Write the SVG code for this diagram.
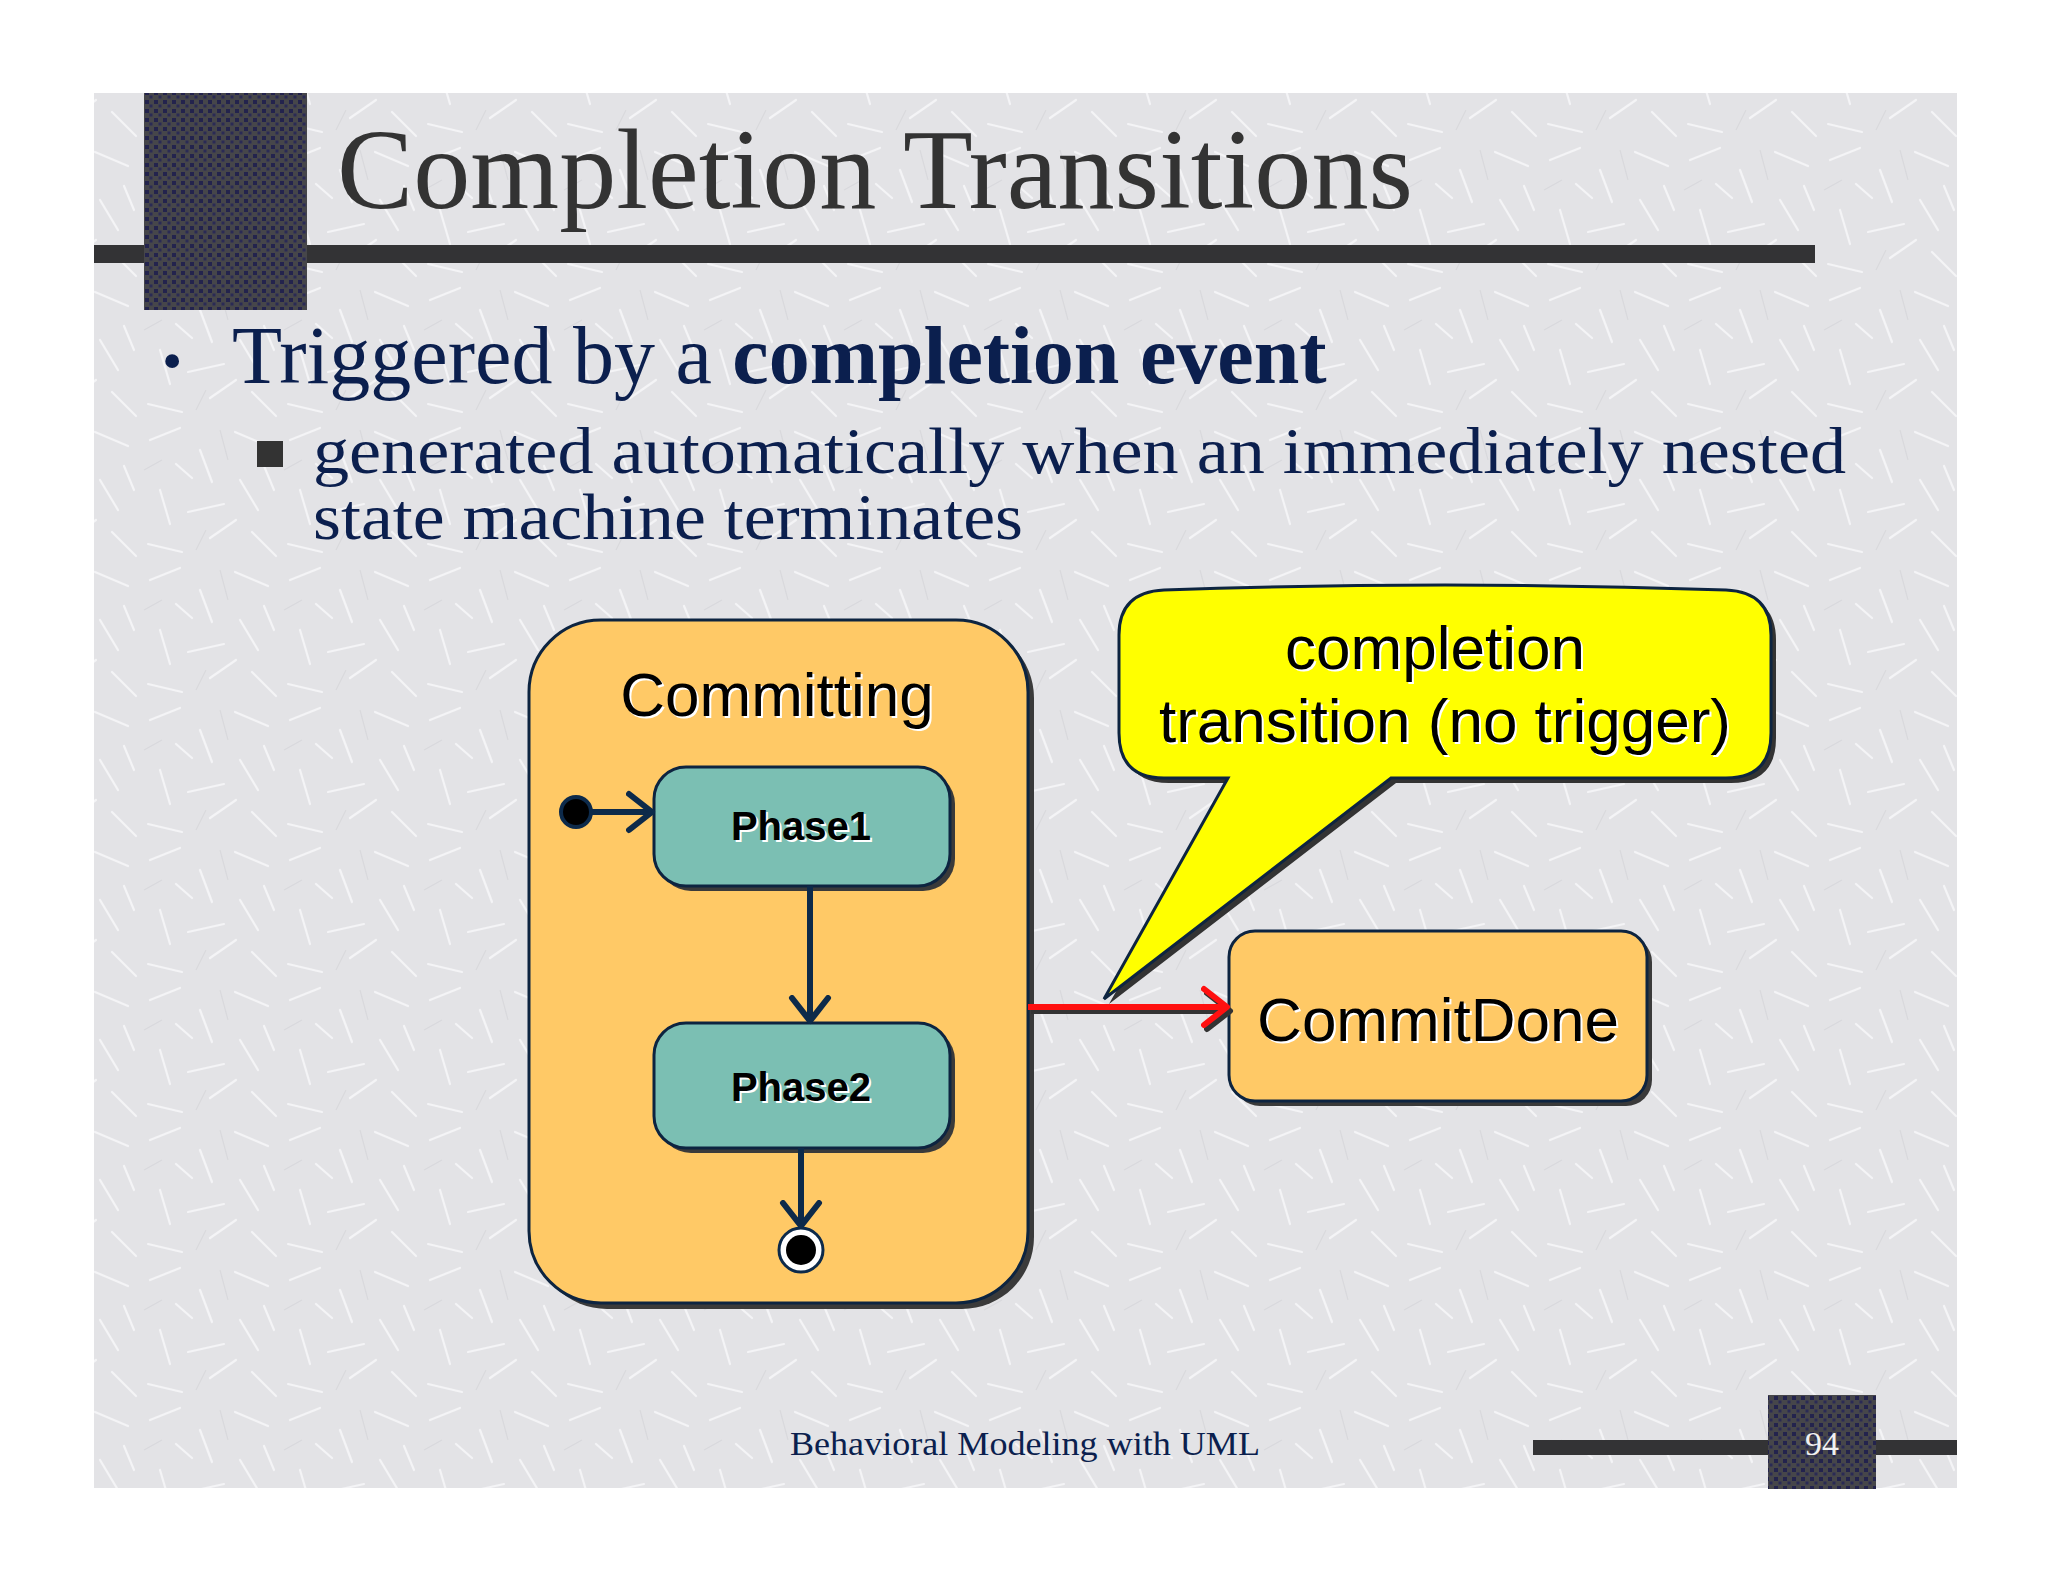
<svg xmlns="http://www.w3.org/2000/svg" width="2048" height="1582" viewBox="0 0 2048 1582">
<defs>
<pattern id="tex" width="140" height="140" patternUnits="userSpaceOnUse">
<rect width="140" height="140" fill="#e3e3e6"/>
<g stroke="#f7f7f9" stroke-width="2.2" stroke-linecap="round" opacity="0.85">
<line x1="10" y1="20" x2="40" y2="8"/><line x1="60" y1="30" x2="72" y2="62"/><line x1="95" y1="12" x2="128" y2="26"/>
<line x1="20" y1="70" x2="30" y2="104"/><line x1="48" y1="92" x2="84" y2="84"/><line x1="100" y1="60" x2="118" y2="90"/>
<line x1="8" y1="124" x2="42" y2="132"/><line x1="70" y1="118" x2="96" y2="100"/><line x1="112" y1="112" x2="136" y2="136"/>
<line x1="36" y1="44" x2="52" y2="58"/><line x1="124" y1="46" x2="134" y2="70"/>
</g>
<g stroke="#d4d4d8" stroke-width="1.2" opacity="0.7">
<line x1="4" y1="50" x2="22" y2="40"/><line x1="80" y1="10" x2="88" y2="40"/><line x1="56" y1="130" x2="66" y2="110"/>
</g>
</pattern>
<pattern id="dots" width="9" height="9" patternUnits="userSpaceOnUse">
<rect width="9" height="9" fill="#46464a"/>
<rect x="1" y="1" width="4" height="4" fill="#23234d"/>
<rect x="5.5" y="5.5" width="3" height="3" fill="#2a2a55"/>
</pattern>
<marker id="arr" markerWidth="34" markerHeight="44" refX="26" refY="22" orient="auto" markerUnits="userSpaceOnUse">
<path d="M3,4 L26,22 L3,40" fill="none" stroke="#0d2a4a" stroke-width="6" stroke-linecap="round" stroke-linejoin="round"/>
</marker>
<marker id="arrRed" markerWidth="34" markerHeight="44" refX="26" refY="22" orient="auto" markerUnits="userSpaceOnUse">
<path d="M3,4 L26,22 L3,40" fill="none" stroke="#ff1010" stroke-width="6" stroke-linecap="round" stroke-linejoin="round"/>
</marker>
<marker id="arrSh" markerWidth="34" markerHeight="44" refX="26" refY="22" orient="auto" markerUnits="userSpaceOnUse">
<path d="M3,4 L26,22 L3,40" fill="none" stroke="#333" stroke-width="6" stroke-linecap="round" stroke-linejoin="round"/>
</marker>
</defs>
<style>
.serif{font-family:"Liberation Serif","Times New Roman",serif}
.sans{font-family:"Liberation Sans",Arial,sans-serif}
.navy{fill:#0b1f4e}
.state{stroke:#0d2440;stroke-width:3}
.shadow{fill:#3a3a3a}
.lbl{fill:#000}
.lblw{fill:#fff}
.conn{stroke:#0d2a4a;stroke-width:6;fill:none}
</style>
<rect width="2048" height="1582" fill="#fff"/>
<rect x="94" y="93" width="1863" height="1395" fill="url(#tex)"/>
<g id="header">
<rect x="94" y="245" width="1721" height="18" fill="#333335"/>
<rect x="144" y="93" width="163" height="217" fill="url(#dots)"/>
<text class="serif" x="337" y="208" font-size="114" fill="#333" textLength="1076" lengthAdjust="spacingAndGlyphs">Completion Transitions</text>
</g>
<g id="bullets" class="serif navy">
<text x="162" y="380" font-size="58">•</text>
<text x="232" y="383" font-size="82">Triggered by a <tspan font-weight="bold">completion event</tspan></text>
<rect x="257" y="441" width="26" height="26" fill="#333"/>
<text x="313" y="473" font-size="66" textLength="1533" lengthAdjust="spacingAndGlyphs">generated automatically when an immediately nested</text>
<text x="313" y="539" font-size="66" textLength="710" lengthAdjust="spacingAndGlyphs">state machine terminates</text>
</g>
<g id="Committing">
<rect x="535" y="626" width="499" height="683" rx="72" class="shadow"/>
<rect x="529" y="620" width="499" height="683" rx="72" fill="#ffc966" class="state"/>
<text class="sans lblw" x="779" y="718" font-size="62" text-anchor="middle">Committing</text>
<text class="sans lbl" x="777" y="716" font-size="62" text-anchor="middle">Committing</text>
</g>
<g id="Phase1">
<rect x="659" y="772" width="296" height="119" rx="32" class="shadow"/>
<rect x="654" y="767" width="296" height="119" rx="32" fill="#7bbfb3" class="state"/>
<text class="sans lblw" x="803" y="842" font-size="40" font-weight="bold" text-anchor="middle">Phase1</text>
<text class="sans lbl" x="801" y="840" font-size="40" font-weight="bold" text-anchor="middle">Phase1</text>
</g>
<g id="Phase2">
<rect x="659" y="1028" width="296" height="125" rx="32" class="shadow"/>
<rect x="654" y="1023" width="296" height="125" rx="32" fill="#7bbfb3" class="state"/>
<text class="sans lblw" x="803" y="1103" font-size="40" font-weight="bold" text-anchor="middle">Phase2</text>
<text class="sans lbl" x="801" y="1101" font-size="40" font-weight="bold" text-anchor="middle">Phase2</text>
</g>
<g id="initial">
<circle cx="576" cy="812" r="15" fill="#000" stroke="#0d2a4a" stroke-width="4"/>
</g>
<g id="final">
<circle cx="801" cy="1250" r="22" fill="#fff" stroke="#0d2a4a" stroke-width="3"/>
<circle cx="801" cy="1250" r="15" fill="#000"/>
</g>
<g id="CommitDone">
<rect x="1234" y="936" width="418" height="170" rx="26" class="shadow"/>
<rect x="1229" y="931" width="418" height="170" rx="26" fill="#ffc966" class="state"/>
<text class="sans lblw" x="1440" y="1043" font-size="62" text-anchor="middle">CommitDone</text>
<text class="sans lbl" x="1438" y="1041" font-size="62" text-anchor="middle">CommitDone</text>
</g>
<g id="connectors">
<line x1="591" y1="812" x2="652" y2="812" class="conn" marker-end="url(#arr)"/>
<line x1="810" y1="886" x2="810" y2="1021" class="conn" marker-end="url(#arr)"/>
<line x1="801" y1="1148" x2="801" y2="1226" class="conn" marker-end="url(#arr)"/>
<line x1="1031" y1="1011" x2="1230" y2="1011" stroke="#333" stroke-width="6" marker-end="url(#arrSh)"/>
<line x1="1028" y1="1007" x2="1227" y2="1007" stroke="#ff1010" stroke-width="6" marker-end="url(#arrRed)"/>
</g>
<g id="callout">
<path d="M1169 595 Q1450 585 1731 595 Q1776 597 1776 640 V738 Q1776 783 1731 783 H1396 L1109 1004 L1233 783 H1169 Q1124 783 1124 738 V640 Q1124 597 1169 595 Z" fill="#333"/>
<path d="M1164 590 Q1445 580 1726 590 Q1771 592 1771 635 V733 Q1771 778 1726 778 H1391 L1104 999 L1228 778 H1164 Q1119 778 1119 733 V635 Q1119 592 1164 590 Z" fill="#ffff00" stroke="#0d2440" stroke-width="3"/>
<text class="sans lblw" x="1437" y="671" font-size="62" text-anchor="middle">completion</text>
<text class="sans lbl" x="1435" y="669" font-size="62" text-anchor="middle">completion</text>
<text class="sans lblw" x="1447" y="744" font-size="62" text-anchor="middle" textLength="572" lengthAdjust="spacingAndGlyphs">transition (no trigger)</text>
<text class="sans lbl" x="1445" y="742" font-size="62" text-anchor="middle" textLength="572" lengthAdjust="spacingAndGlyphs">transition (no trigger)</text>
</g>
<g id="footer">
<rect x="1533" y="1440" width="424" height="15" fill="#333335"/>
<rect x="1768" y="1395" width="108" height="94" fill="url(#dots)"/>
<text class="serif" x="1822" y="1455" font-size="34" fill="#f0f0f0" text-anchor="middle">94</text>
<text class="serif navy" x="1025" y="1455" font-size="34" text-anchor="middle" textLength="470" lengthAdjust="spacingAndGlyphs">Behavioral Modeling with UML</text>
</g>
</svg>
